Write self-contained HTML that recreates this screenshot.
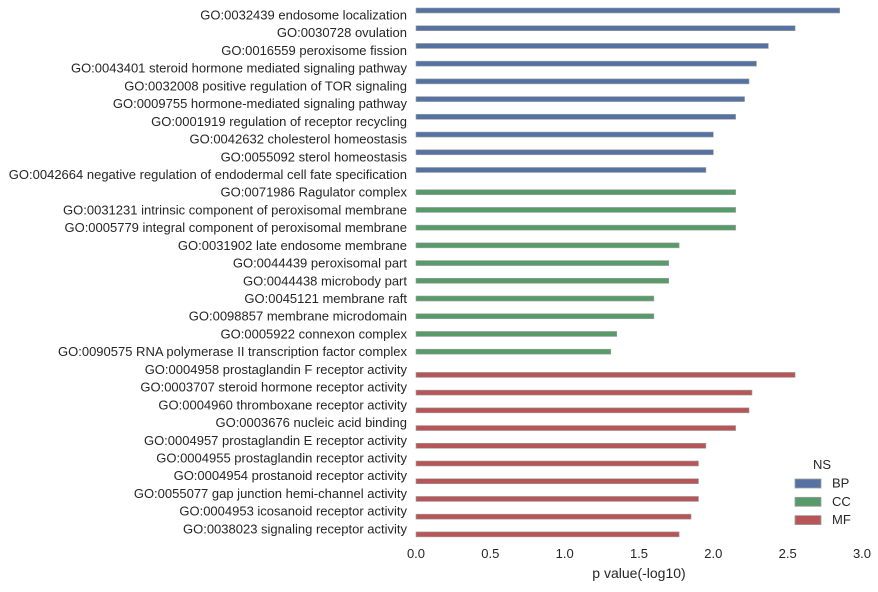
<!DOCTYPE html>
<html><head><meta charset="utf-8"><style>
body{margin:0;background:#fff;width:878px;height:587px;overflow:hidden;font-family:"Liberation Sans",sans-serif;}
svg text{font-family:"Liberation Sans",sans-serif;fill:#262626;}
</style></head><body>
<svg id="chart" width="878" height="587" xmlns="http://www.w3.org/2000/svg"></svg>
<script>
const categories = ["GO:0032439 endosome localization","GO:0030728 ovulation","GO:0016559 peroxisome fission","GO:0043401 steroid hormone mediated signaling pathway","GO:0032008 positive regulation of TOR signaling","GO:0009755 hormone-mediated signaling pathway","GO:0001919 regulation of receptor recycling","GO:0042632 cholesterol homeostasis","GO:0055092 sterol homeostasis","GO:0042664 negative regulation of endodermal cell fate specification","GO:0071986 Ragulator complex","GO:0031231 intrinsic component of peroxisomal membrane","GO:0005779 integral component of peroxisomal membrane","GO:0031902 late endosome membrane","GO:0044439 peroxisomal part","GO:0044438 microbody part","GO:0045121 membrane raft","GO:0098857 membrane microdomain","GO:0005922 connexon complex","GO:0090575 RNA polymerase II transcription factor complex","GO:0004958 prostaglandin F receptor activity","GO:0003707 steroid hormone receptor activity","GO:0004960 thromboxane receptor activity","GO:0003676 nucleic acid binding","GO:0004957 prostaglandin E receptor activity","GO:0004955 prostaglandin receptor activity","GO:0004954 prostanoid receptor activity","GO:0055077 gap junction hemi-channel activity","GO:0004953 icosanoid receptor activity","GO:0038023 signaling receptor activity"];
const namespaces = ["BP","BP","BP","BP","BP","BP","BP","BP","BP","BP","CC","CC","CC","CC","CC","CC","CC","CC","CC","CC","MF","MF","MF","MF","MF","MF","MF","MF","MF","MF"];
const values = [2.85,2.55,2.37,2.29,2.24,2.21,2.15,2.00,2.00,1.95,2.15,2.15,2.15,1.77,1.70,1.70,1.60,1.60,1.35,1.31,2.55,2.26,2.24,2.15,1.95,1.90,1.90,1.90,1.85,1.77];
const nsList = ["BP","CC","MF"];
const tickLabels = ["0.0","0.5","1.0","1.5","2.0","2.5","3.0"];
const tickValues = [0,0.5,1,1.5,2,2.5,3];
const colors = {BP:"#5572a2",CC:"#579b6a",MF:"#b65659"};
const svg = document.getElementById('chart');
const NS = "http://www.w3.org/2000/svg";
const x0 = 416, x1 = 862;
const xScale = v => x0 + (v/3)*(x1-x0);
const rowY = i => 15 + i*17.72;
const offs = {BP:-4.5, CC:0, MF:5.5};
function mk(t, a){const e=document.createElementNS(NS,t);for(const k in a)e.setAttribute(k,a[k]);svg.appendChild(e);return e;}
categories.forEach((c,i)=>{
  const t = mk('text',{x:407,y:rowY(i)+4.5,'text-anchor':'end','font-size':'13'});
  t.textContent = c;
  
  
  const ns = namespaces[i];
  const cy = rowY(i)+offs[ns];
  const r = mk('rect',{x:x0,y:cy-2.5,width:xScale(values[i])-x0,height:5,fill:colors[ns],stroke:'#a0a0a0','stroke-width':'0.6'});
  
  
});
tickValues.forEach((v,i)=>{
  const t = mk('text',{x:xScale(v),y:558,'text-anchor':'middle','font-size':'13'});
  t.textContent = tickLabels[i];
  
  
});
const xt = mk('text',{x:639,y:578,'text-anchor':'middle','font-size':'14'});
xt.textContent = 'p value(-log10)';


const lt = mk('text',{x:822,y:469,'text-anchor':'middle','font-size':'13'});
lt.textContent = 'NS';


nsList.forEach((n,i)=>{
  const y = 483 + i*18.3;
  const r = mk('rect',{x:795,y:y-4,width:26,height:9,fill:colors[n],stroke:'#a0a0a0','stroke-width':'0.8'});
  
  
  const t = mk('text',{x:832,y:y+4.5,'font-size':'13'});
  t.textContent = n;
  
  
});
</script>
</body></html>
